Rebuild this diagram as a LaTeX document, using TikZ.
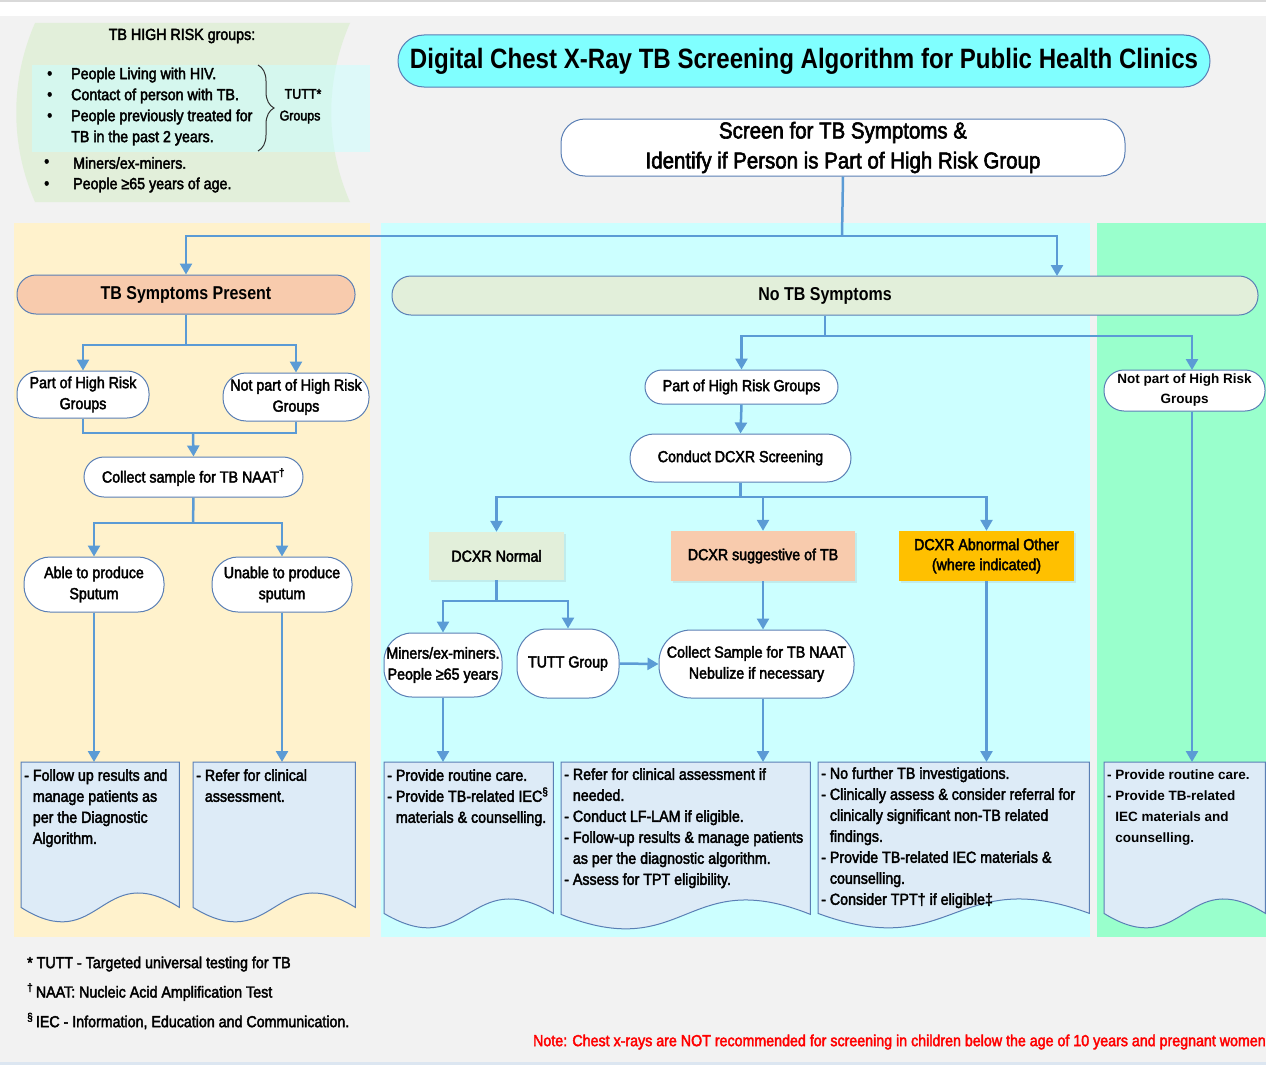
\documentclass[tikz,border=0pt]{standalone}
\usepackage{fontspec}
\setmainfont{Liberation Sans}
\newfontfamily\nar{Liberation Sans}[FakeStretch=0.89,FakeBold=2.5]
\newfontfamily\heavy{Liberation Sans}[FakeStretch=0.86]
\usetikzlibrary{arrows.meta,decorations.pathreplacing,calc,shadows}

\definecolor{pagebg}{HTML}{F2F2F2}
\definecolor{footline}{HTML}{DCE6F1}
\definecolor{paneY}{HTML}{FFF2CC}
\definecolor{paneC}{HTML}{CCFFFF}
\definecolor{paneG}{HTML}{99FFCC}
\definecolor{riskG}{HTML}{E2EFDA}
\definecolor{titleC}{HTML}{80FFFF}
\definecolor{flow}{HTML}{5B9BD5}
\definecolor{edge}{HTML}{5A7FB5}
\definecolor{docF}{HTML}{DDEBF7}
\definecolor{peach}{HTML}{F8CBAD}
\definecolor{amber}{HTML}{FFC000}
\definecolor{notered}{HTML}{FF0000}

\newcommand{\ind}{\hphantom{-\ }}

\tikzset{
  txt/.style={font=\nar\fontsize{16}{21}\selectfont},
  pill/.style={rectangle, rounded corners=#1, draw=edge, line width=1pt, fill=white,
    inner sep=0pt, align=center, txt},
  pill/.default=20pt,
  card/.style={rectangle, inner sep=0pt, align=center, txt,
    drop shadow={shadow xshift=2pt, shadow yshift=-2pt, opacity=0.15}},
  flowline/.style={draw=flow, line width=2.5pt},
  flowarrow/.style={flowline, -{Triangle[length=11pt,width=12pt]}},
  docframe/.style={draw=edge, line width=1pt, fill=docF},
  doctext/.style={anchor=north west, align=left, inner sep=0pt, txt},
  hrtext/.style={anchor=west, inner sep=0pt, txt},
  foottext/.style={anchor=west, inner sep=0pt, font=\nar\fontsize{16}{18}\selectfont},
  headfont/.style={font=\heavy\bfseries\fontsize{18.6}{22}\selectfont}
}

% document shape with a wavy lower edge: name, x0, y0, x1, y-bottom
\newcommand{\docshape}[5]{%
  \node[inner sep=0pt, minimum width={#4-#2}, minimum height={#5-#3}, anchor=north west] (#1) at (#2,#3) {};
  \draw[docframe] (#1.north west) -- (#1.north east) -- (#1.south east)
    .. controls ($(#1.south)+(0,-50)$) and ($(#1.south)+(0,50)$) .. (#1.south west) -- cycle;
}

\begin{document}
\begin{tikzpicture}[x=1pt,y=-1pt]
\useasboundingbox (0,0) rectangle (1266,1065);
\fill[pagebg] (0,0) rectangle (1266,1065);
\fill[white] (0,2) rectangle (1266,16);
\fill[black!15] (0,0) rectangle (1266,2);
\fill[footline] (0,1062) rectangle (1266,1065);

% column panels
\fill[paneY] (14,223) rectangle (370,937);
\fill[paneC] (381,223) rectangle (1090,937);
\fill[paneG] (1097,223) rectangle (1266,937);

% high risk group legend
\fill[riskG] (35,23) -- (350,23) .. controls (325,80) and (325,145) .. (350,202)
  -- (35,202) .. controls (10,145) and (10,80) .. cycle;
\fill[paneC, opacity=0.55] (32,65) rectangle (370,152);
\node[txt, inner sep=0pt] (hrhead) at (182,36) {TB HIGH RISK groups:};
\node[hrtext] (b1) at (47,75) {•};
\node[hrtext] (b2) at (47,96) {•};
\node[hrtext] (b3) at (47,117) {•};
\node[hrtext] (b4) at (44,163) {•};
\node[hrtext] (b5) at (44,185) {•};
\node[hrtext] (h1) at (71,75) {People Living with HIV.};
\node[hrtext] (h2) at (71,96) {Contact of person with TB.};
\node[hrtext] (h3) at (71,117) {People previously treated for};
\node[hrtext] (h3b) at (71,138) {TB in the past 2 years.};
\node[hrtext] (h4) at (73,163) {Miners/ex-miners.};
\node[hrtext] (h5) at (73,185) {People ≥65 years of age.};
\draw[line width=1pt, black!80, decorate, decoration={brace, amplitude=16pt}] (258,65) -- (258,151);
\node[txt, inner sep=0pt, font=\nar\fontsize{14}{18}\selectfont] (tutt1) at (303,94) {TUTT*};
\node[txt, inner sep=0pt, font=\nar\fontsize{14}{18}\selectfont] (tutt2) at (300,117) {Groups};

% title and entry
\node[pill=26pt, fill=titleC, minimum width=812, minimum height=52,
  font=\heavy\bfseries\fontsize{28}{32}\selectfont] (title) at (804,61)
  {Digital Chest X-Ray TB Screening Algorithm for Public Health Clinics};
\node[pill=24pt, minimum width=564, minimum height=57,
  font=\nar\fontsize{23}{30}\selectfont] (screen) at (843,147.5)
  {Screen for TB Symptoms \&\\Identify if Person is Part of High Risk Group};

% symptom split
\node[pill=19pt, fill=peach, minimum width=338, minimum height=39, headfont] (sympt) at (186,294.5) {TB Symptoms Present};
\node[pill=19pt, fill=riskG, minimum width=866, minimum height=39, headfont] (nosympt) at (825,295.5) {No TB Symptoms};

% symptomatic branch
\node[pill=22pt, minimum width=132, minimum height=47] (hrL) at (83,394.5) {Part of High Risk\\Groups};
\node[pill=23pt, minimum width=146, minimum height=48] (nhrL) at (296,397) {Not part of High Risk\\Groups};
\node[pill=20pt, minimum width=219, minimum height=40] (naat) at (193.5,477) {Collect sample for TB NAAT\textsuperscript{†}};
\node[pill=26pt, minimum width=140, minimum height=55] (able) at (94,584.5) {Able to produce\\Sputum};
\node[pill=26pt, minimum width=140, minimum height=55] (unable) at (282,584.5) {Unable to produce\\sputum};

% asymptomatic branch
\node[pill=17pt, minimum width=193, minimum height=34] (hrM) at (741.5,387) {Part of High Risk Groups};
\node[pill=24pt, minimum width=221, minimum height=48] (dcxr) at (740.5,458) {Conduct DCXR Screening};
\node[card, fill=riskG, minimum width=135, minimum height=48] (normal) at (496.5,556) {DCXR Normal};
\node[card, fill=peach, minimum width=184, minimum height=50] (sugg) at (763,556) {DCXR suggestive of TB};
\node[card, fill=amber, minimum width=175, minimum height=50, font=\nar\fontsize{16}{20}\selectfont] (abn) at (986.5,556) {DCXR Abnormal Other\\(where indicated)};
\node[pill=28pt, minimum width=118, minimum height=64] (miners) at (443,665) {Miners/ex-miners.\\People ≥65 years};
\node[pill=30pt, minimum width=102, minimum height=69] (tutt) at (568,663.5) {TUTT Group};
\node[pill=32pt, minimum width=195, minimum height=68] (coll) at (756.5,664) {Collect Sample for TB NAAT\\Nebulize if necessary};
\node[pill=20pt, minimum width=161, minimum height=41, font=\bfseries\fontsize{13.5}{20}\selectfont] (nhrR) at (1184.5,390.5) {Not part of High Risk\\Groups};

% outcome documents
\docshape{docA}{21}{762}{179}{907}
\docshape{docB}{193}{762}{355}{907}
\docshape{docC}{384}{762}{553}{913}
\docshape{docD}{561}{762}{810}{914}
\docshape{docE}{818}{762}{1089}{913}
\docshape{docF}{1104}{762}{1265}{913}

\node[doctext] (tA) at (24,769) {- Follow up results and\\\ind manage patients as\\\ind per the Diagnostic\\\ind Algorithm.};
\node[doctext] (tB) at (196,769) {- Refer for clinical\\\ind assessment.};
\node[doctext] (tC) at (387,769) {- Provide routine care.\\- Provide TB-related IEC\textsuperscript{§}\\\ind materials \& counselling.};
\node[doctext] (tD) at (564,768) {- Refer for clinical assessment if\\\ind needed.\\- Conduct LF-LAM if eligible.\\- Follow-up results \& manage patients\\\ind as per the diagnostic algorithm.\\- Assess for TPT eligibility.};
\node[doctext] (tE) at (821,767) {- No further TB investigations.\\- Clinically assess \& consider referral for\\\ind clinically significant non-TB related\\\ind findings.\\- Provide TB-related IEC materials \&\\\ind counselling.\\- Consider TPT† if eligible‡};
\node[doctext, font=\bfseries\fontsize{13.5}{21}\selectfont] (tF) at (1107,770) {- Provide routine care.\\- Provide TB-related\\\ind IEC materials and\\\ind counselling.};

% connectors
\coordinate (j0) at (842,236);
\coordinate (nsIn) at (1057,276);
\draw[flowline] (screen.south) -- (j0);
\draw[flowarrow] (j0) -| (sympt.north);
\draw[flowarrow] (j0) -| (nsIn);

\coordinate (j1) at (186,345);
\draw[flowline] (sympt.south) -- (j1);
\draw[flowarrow] (j1) -| (hrL.north);
\draw[flowarrow] (j1) -| (nhrL.north);

\coordinate (j2) at (193,433);
\draw[flowline] (hrL.south) |- (j2) -| (nhrL.south);
\draw[flowarrow] (j2) -- (naat.north);

\coordinate (j3) at (193,523);
\draw[flowline] (naat.south) -- (j3);
\draw[flowarrow] (j3) -| (able.north);
\draw[flowarrow] (j3) -| (unable.north);
\draw[flowarrow] (able.south) -- (able.south |- docA.north);
\draw[flowarrow] (unable.south) -- (unable.south |- docB.north);

\coordinate (j4) at (825,336);
\coordinate (nrIn) at (1192,370);
\draw[flowline] (nosympt.south) -- (j4);
\draw[flowarrow] (j4) -| (hrM.north);
\draw[flowarrow] (j4) -| (nrIn);
\draw[flowarrow] (hrM.south) -- (dcxr.north);

\coordinate (j5) at (740.5,497);
\draw[flowline] (dcxr.south) -- (j5);
\draw[flowarrow] (j5) -| (normal.north);
\draw[flowarrow] (j5) -| (sugg.north);
\draw[flowarrow] (j5) -| (abn.north);

\coordinate (j6) at (496.5,601);
\draw[flowline] (normal.south) -- (j6);
\draw[flowarrow] (j6) -| (miners.north);
\draw[flowarrow] (j6) -| (tutt.north);
\draw[flowarrow] (tutt.east) -- (coll.west);
\draw[flowarrow] (sugg.south) -- (sugg.south |- coll.north);
\draw[flowarrow] (sugg.south |- coll.south) -- (sugg.south |- docD.north);
\draw[flowarrow] (miners.south) -- (miners.south |- docC.north);
\draw[flowarrow] (abn.south) -- (abn.south |- docE.north);
\draw[flowarrow] (nrIn |- nhrR.south) -- (nrIn |- docF.north);

% footnotes
\node[foottext] (fn1) at (27,964) {* TUTT - Targeted universal testing for TB};
\node[foottext] (fn2) at (27,992) {\textsuperscript{†}\,NAAT: Nucleic Acid Amplification Test};
\node[foottext] (fn3) at (27,1021) {\textsuperscript{§}\,IEC - Information, Education and Communication.};
\node[foottext, anchor=east, text=notered] (note) at (1266,1042)
  {Note: Chest x-rays are NOT recommended for screening in children below the age of 10 years and pregnant women};
\end{tikzpicture}
\end{document}
